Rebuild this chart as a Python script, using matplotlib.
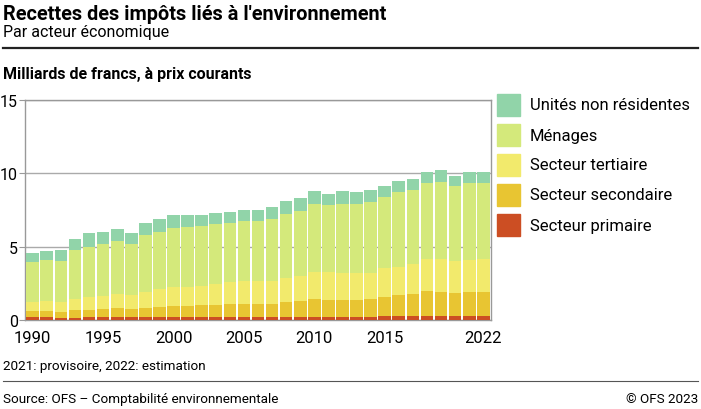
import numpy as np
import matplotlib
matplotlib.use("Agg")
import matplotlib.pyplot as plt
from matplotlib.lines import Line2D

plt.rcParams['font.family'] = ['Roboto', 'DejaVu Sans']

# Data: billions of CHF, current prices
years = list(range(1990, 2023))
primaire = [0.18, 0.18, 0.14, 0.16, 0.18, 0.18, 0.18, 0.18, 0.18, 0.18, 0.18,
            0.18, 0.18, 0.18, 0.18, 0.18, 0.18, 0.18, 0.18, 0.18, 0.18, 0.18,
            0.18, 0.18, 0.2, 0.27, 0.27, 0.27, 0.27, 0.27, 0.25, 0.25, 0.25]
# cumulative tops, converted to shares below
top_secondaire = [0.61, 0.61, 0.55, 0.66, 0.68, 0.77, 0.80, 0.75, 0.82, 0.86, 0.95,
                  0.95, 1.00, 1.00, 1.07, 1.07, 1.09, 1.11, 1.20, 1.27, 1.41, 1.36,
                  1.36, 1.36, 1.41, 1.57, 1.68, 1.77, 1.95, 1.91, 1.84, 1.91, 1.91]
top_tertiaire = [1.23, 1.27, 1.23, 1.41, 1.55, 1.64, 1.75, 1.73, 1.93, 2.09, 2.27,
                 2.27, 2.32, 2.43, 2.57, 2.64, 2.64, 2.68, 2.84, 3.00, 3.30, 3.25,
                 3.20, 3.20, 3.20, 3.52, 3.64, 3.82, 4.14, 4.14, 4.00, 4.07, 4.14]
top_menages = [3.93, 4.07, 4.02, 4.75, 5.00, 5.20, 5.36, 5.18, 5.77, 5.98, 6.25,
               6.34, 6.39, 6.52, 6.59, 6.73, 6.77, 6.89, 7.20, 7.43, 7.89, 7.82,
               7.89, 7.89, 8.05, 8.36, 8.70, 8.89, 9.32, 9.43, 9.11, 9.32, 9.34]
top_total = [4.55, 4.68, 4.77, 5.50, 5.91, 6.00, 6.18, 5.95, 6.64, 6.86, 7.16,
             7.16, 7.16, 7.30, 7.39, 7.52, 7.52, 7.73, 8.14, 8.34, 8.77, 8.61,
             8.77, 8.70, 8.89, 9.11, 9.45, 9.64, 10.09, 10.20, 9.80, 10.07, 10.09]

secondaire = np.array(top_secondaire) - np.array(primaire)
tertiaire = np.array(top_tertiaire) - np.array(top_secondaire)
menages = np.array(top_menages) - np.array(top_tertiaire)
non_residents = np.array(top_total) - np.array(top_menages)

series = [
    ("Secteur primaire", primaire, "#cc4e23"),
    ("Secteur secondaire", secondaire, "#e8c532"),
    ("Secteur tertiaire", tertiaire, "#f2ea6c"),
    ("Ménages", menages, "#d4e97b"),
    ("Unités non résidentes", non_residents, "#91d4a9"),
]

fig = plt.figure(figsize=(7.01, 4.10), dpi=100)
W, H = 701, 410
ax = fig.add_axes([25 / W, 1 - 321 / H, (491 - 25) / W, (321 - 101) / H])

bottom = np.zeros(len(years))
for name, vals, col in series:
    ax.bar(years, vals, bottom=bottom, width=0.9, color=col,
           edgecolor="none", linewidth=0, zorder=3)
    bottom += np.array(vals)

ax.set_xlim(1989.45, 2022.55)
ax.set_ylim(0, 15)
ax.set_yticks([0, 5, 10, 15])
ax.set_xticks([1990, 1995, 2000, 2005, 2010, 2015, 2022])
ax.tick_params(axis='y', length=4, color="#999999", labelsize=11.5, pad=1)
ax.tick_params(axis='x', length=0, labelsize=12, pad=7)
ax.grid(axis='y', color="#aaaaaa", linewidth=1, zorder=0)
for s in ax.spines.values():
    s.set_color("#999999")
    s.set_linewidth(1)

# legend drawn top to bottom like the reference
for i, (name, vals, col) in enumerate(reversed(series)):
    y = 95 + i * 30
    fig.patches.append(plt.Rectangle((497 / W, 1 - (y + 22) / H), 23 / W, 22 / H,
                                     transform=fig.transFigure, color=col))
    fig.text(530 / W, 1 - (y + 11) / H, name, fontsize=12, va="center", ha="left")

# titles
fig.text(3 / W, 1 - 14 / H, "Recettes des impôts liés à l'environnement",
         fontsize=14.3, fontweight="bold", va="center")
fig.text(3 / W, 1 - 33 / H, "Par acteur économique", fontsize=11.5, va="center")
fig.add_artist(Line2D([3 / W, 698 / W], [1 - 49 / H, 1 - 49 / H], color="#222222", linewidth=1.6))
fig.text(3 / W, 1 - 75 / H, "Milliards de francs, à prix courants",
         fontsize=11.5, fontweight="bold", va="center")

# footer
fig.text(3 / W, 1 - 367 / H, "2021: provisoire, 2022: estimation", fontsize=9.7, va="center")
fig.add_artist(Line2D([3 / W, 698 / W], [1 - 382 / H, 1 - 382 / H], color="#555555", linewidth=0.8))
fig.text(3 / W, 1 - 400 / H, "Source: OFS – Comptabilité environnementale", fontsize=9.7, va="center")
fig.text(698 / W, 1 - 400 / H, "© OFS 2023", fontsize=9.7, va="center", ha="right")

fig.savefig("out.png", dpi=100)
